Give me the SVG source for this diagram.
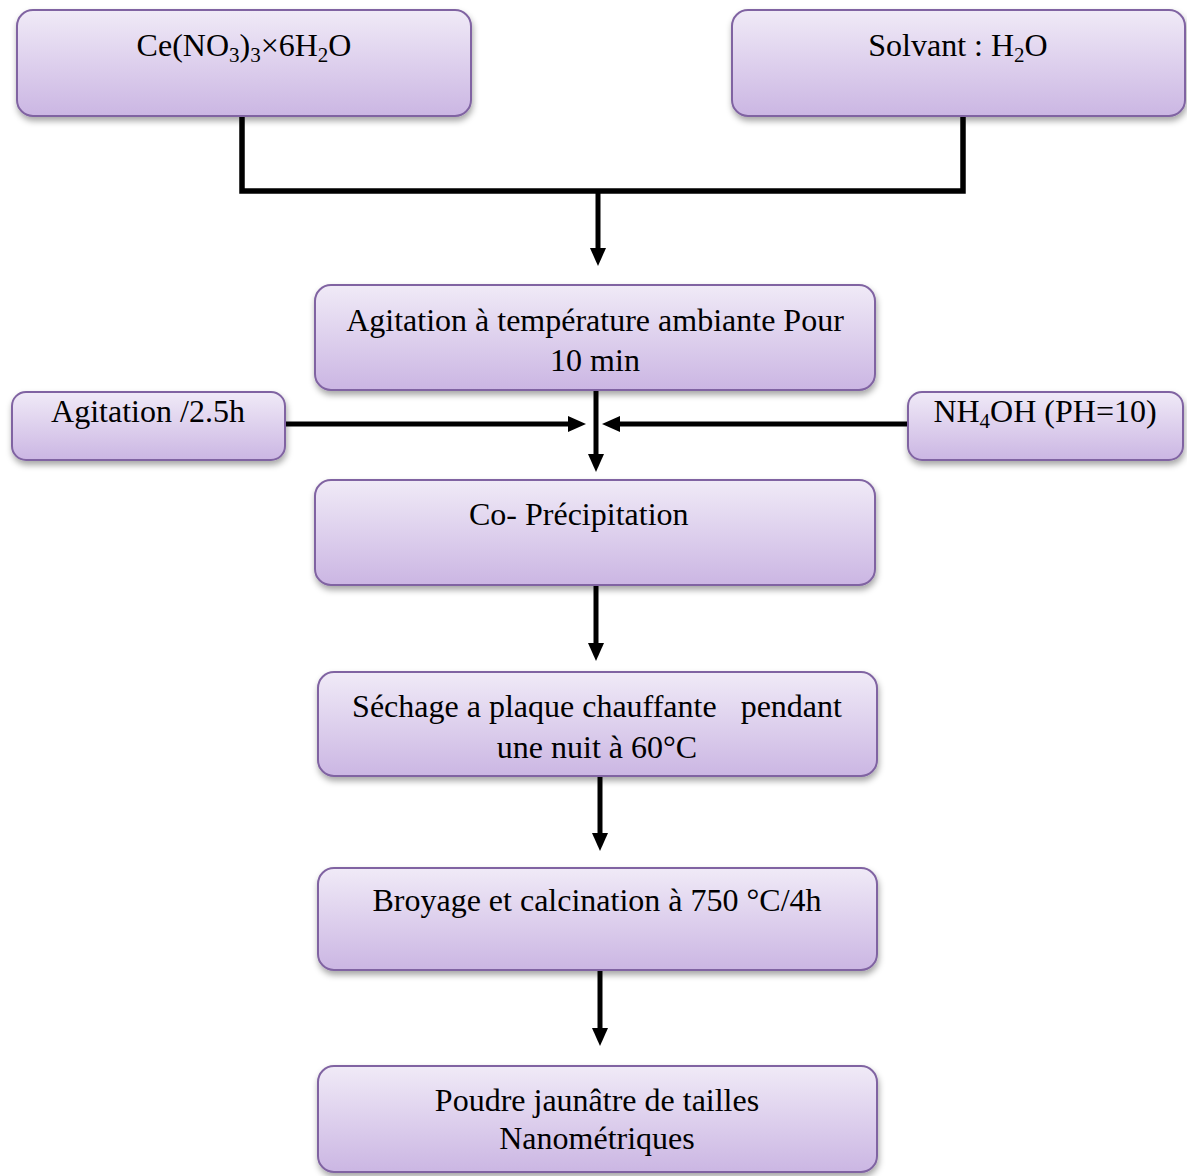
<svg xmlns="http://www.w3.org/2000/svg" width="1187" height="1176" viewBox="0 0 1187 1176">
<defs>
<linearGradient id="g" x1="0" y1="0" x2="0" y2="1">
<stop offset="0" stop-color="#F0EAF7"/>
<stop offset="1" stop-color="#CBB6E3"/>
</linearGradient>
<filter id="sh" x="-10%" y="-10%" width="120%" height="130%">
<feDropShadow dx="1" dy="4" stdDeviation="3" flood-color="#000" flood-opacity="0.35"/>
</filter>
<marker id="ah" viewBox="0 0 18 16" refX="6" refY="8" markerWidth="18" markerHeight="16" orient="auto" markerUnits="userSpaceOnUse">
<path d="M0,0 L18,8 L0,16 Z" fill="#000"/>
</marker>
<style>
.box{fill:url(#g);stroke:#8064A2;stroke-width:2;filter:url(#sh)}
.t{font-family:'Liberation Serif','Times New Roman',serif;font-size:32px;fill:#000}
.s{font-size:21px}
.c{fill:none;stroke:#000;stroke-width:5.5}
.a{fill:none;stroke:#000;stroke-width:5;marker-end:url(#ah)}
</style>
</defs>
<g id="connectors">
<polyline class="c" points="242,116 242,191 963,191 963,116"/>
<line class="a" x1="598" y1="189" x2="598" y2="254"/>
<line class="a" x1="596" y1="390" x2="596" y2="460"/>
<line class="a" x1="285" y1="424" x2="574" y2="424"/>
<line class="a" x1="908" y1="424" x2="614" y2="424"/>
<line class="a" x1="596" y1="585" x2="596" y2="649"/>
<line class="a" x1="600" y1="776" x2="600" y2="839"/>
<line class="a" x1="600" y1="970" x2="600" y2="1034"/>
</g>
<g id="n1">
<rect class="box" x="17" y="10" width="454" height="106" rx="16"/>
<text class="t" x="244" y="56" text-anchor="middle">Ce(NO<tspan class="s" dy="6">3</tspan><tspan dy="-6">)</tspan><tspan class="s" dy="6">3</tspan><tspan dy="-6">×6H</tspan><tspan class="s" dy="6">2</tspan><tspan dy="-6">O</tspan></text>
</g>
<g id="n2">
<rect class="box" x="732" y="10" width="453" height="106" rx="16"/>
<text class="t" x="958" y="56" text-anchor="middle">Solvant : H<tspan class="s" dy="6">2</tspan><tspan dy="-6">O</tspan></text>
</g>
<g id="n3">
<rect class="box" x="315" y="285" width="560" height="105" rx="16"/>
<text class="t" x="595" y="331" text-anchor="middle">Agitation à température ambiante Pour</text>
<text class="t" x="595" y="371" text-anchor="middle">10 min</text>
</g>
<g id="n4">
<rect class="box" x="12" y="392" width="273" height="68" rx="14"/>
<text class="t" x="148" y="422" text-anchor="middle">Agitation /2.5h</text>
</g>
<g id="n5">
<rect class="box" x="908" y="392" width="275" height="68" rx="14"/>
<text class="t" x="1045" y="422" text-anchor="middle">NH<tspan class="s" dy="6">4</tspan><tspan dy="-6">OH (PH=10)</tspan></text>
</g>
<g id="n6">
<rect class="box" x="315" y="480" width="560" height="105" rx="16"/>
<text class="t" x="469" y="525">Co- Précipitation</text>
</g>
<g id="n7">
<rect class="box" x="318" y="672" width="559" height="104" rx="16"/>
<text class="t" x="597" y="717" text-anchor="middle" xml:space="preserve">Séchage a plaque chauffante   pendant</text>
<text class="t" x="597" y="758" text-anchor="middle">une nuit à 60°C</text>
</g>
<g id="n8">
<rect class="box" x="318" y="868" width="559" height="102" rx="16"/>
<text class="t" x="597" y="911" text-anchor="middle">Broyage et calcination à 750 °C/4h</text>
</g>
<g id="n9">
<rect class="box" x="318" y="1066" width="559" height="106" rx="16"/>
<text class="t" x="597" y="1111" text-anchor="middle">Poudre jaunâtre de tailles</text>
<text class="t" x="597" y="1149" text-anchor="middle">Nanométriques</text>
</g>
</svg>
